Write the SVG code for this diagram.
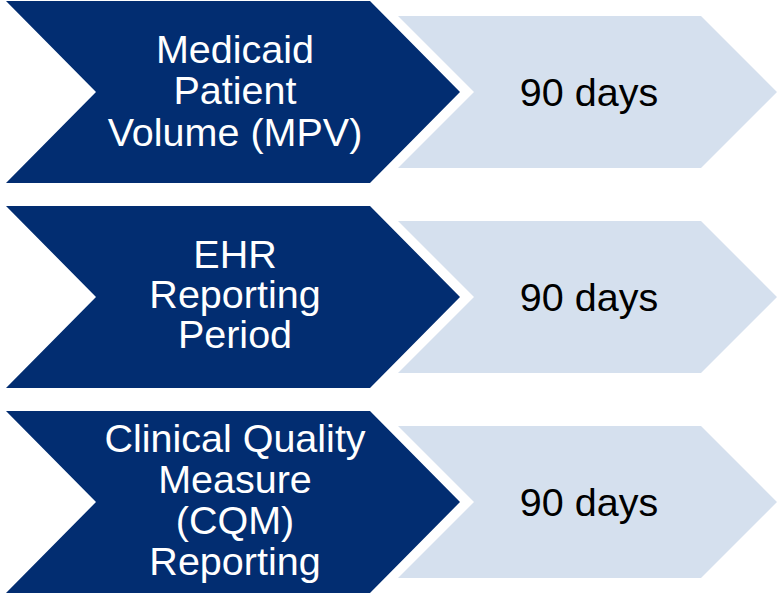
<svg xmlns="http://www.w3.org/2000/svg" width="777" height="593" viewBox="0 0 777 593">
<defs>
<style>
.dark{fill:#022D71;}
.light{fill:#D5E0EE;}
.t{font-family:"Liberation Sans",Arial,sans-serif;font-size:39.5px;text-anchor:middle;}
.w{fill:#FFFFFF;}
.b{fill:#000000;}
</style>
<polygon id="darkShape" points="6,1 370,1 460,92 370,183 6,183 96,92"/>
<polygon id="lightShape" points="398,16 701,16 777,92 701,168 398,168 474,92"/>
</defs>
<rect width="777" height="593" fill="#FFFFFF"/>
<g id="row1">
<g id="mpv">
<use href="#darkShape" class="dark"/>
<text class="t w" x="235" y="63">Medicaid</text>
<text class="t w" x="235" y="104">Patient</text>
<text class="t w" x="235" y="146">Volume (MPV)</text>
</g>
<g id="mpv-days">
<use href="#lightShape" class="light"/>
<text class="t b" x="589" y="106">90 days</text>
</g>
</g>
<g id="row2" transform="translate(0,205)">
<g id="ehr">
<use href="#darkShape" class="dark"/>
<text class="t w" x="235" y="63">EHR</text>
<text class="t w" x="235" y="103">Reporting</text>
<text class="t w" x="235" y="143">Period</text>
</g>
<g id="ehr-days">
<use href="#lightShape" class="light"/>
<text class="t b" x="589" y="106">90 days</text>
</g>
</g>
<g id="row3" transform="translate(0,410)">
<g id="cqm">
<use href="#darkShape" class="dark"/>
<text class="t w" x="235" y="42">Clinical Quality</text>
<text class="t w" x="235" y="83">Measure</text>
<text class="t w" x="235" y="124">(CQM)</text>
<text class="t w" x="235" y="165">Reporting</text>
</g>
<g id="cqm-days">
<use href="#lightShape" class="light"/>
<text class="t b" x="589" y="106">90 days</text>
</g>
</g>
<g id="connectors"/>
</svg>
